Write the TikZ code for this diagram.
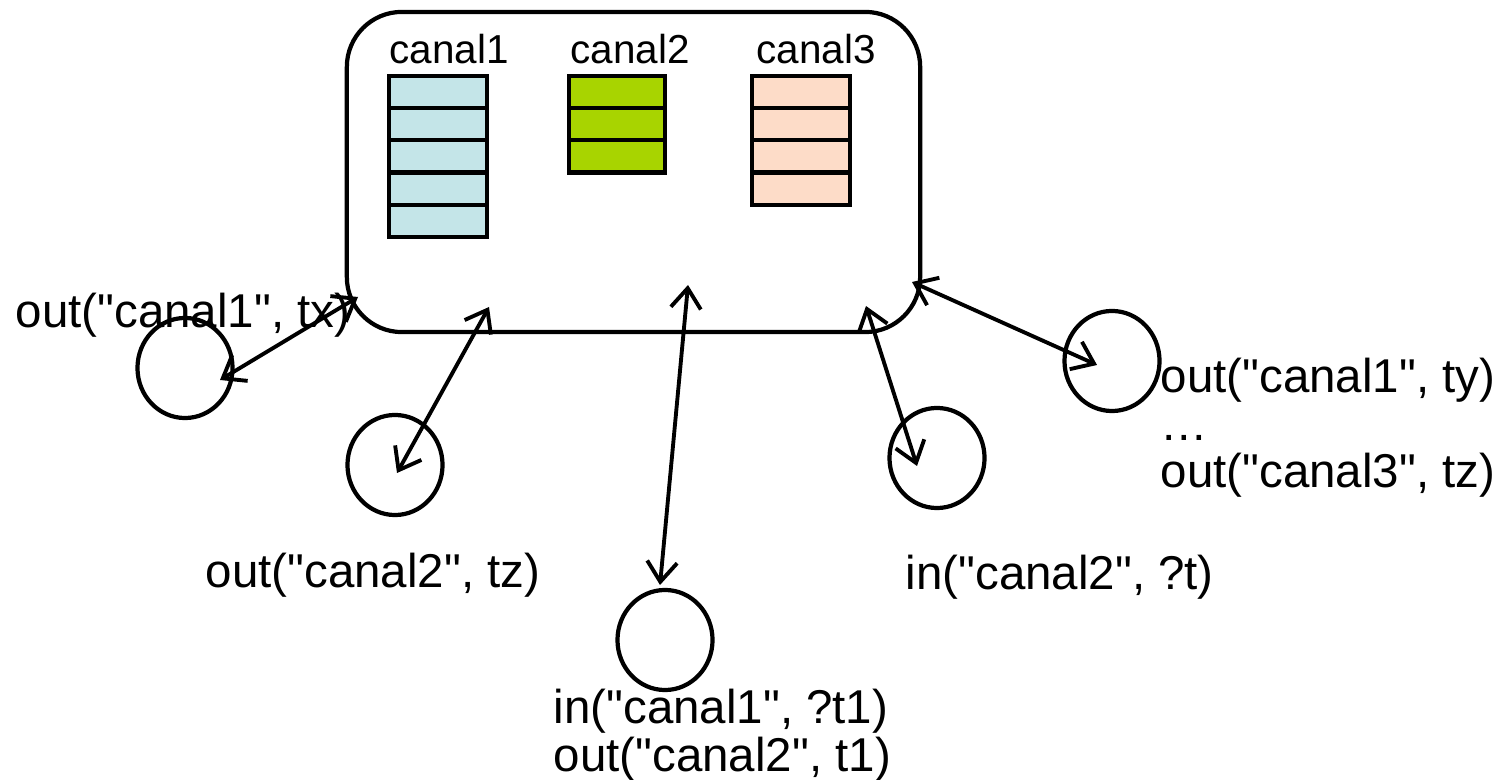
\documentclass[tikz,border=0pt]{standalone}
\usepackage{fontspec}
\setmainfont{Liberation Sans}[Ligatures=TeXOff]
\usetikzlibrary{arrows.meta, positioning, shapes.geometric}

\definecolor{qblue}{RGB}{196,229,232}
\definecolor{qgreen}{RGB}{168,212,0}
\definecolor{qpeach}{RGB}{253,220,200}

\begin{document}
\begin{tikzpicture}[x=0.01cm,y=-0.01cm,
    proc/.style={ellipse,draw,line width=1.2pt,minimum width=0.95cm,minimum height=1cm,inner sep=0pt},
    cell/.style={draw,line width=1.2pt},
    link/.style={{Straight Barb[length=2mm,width=3mm]}-{Straight Barb[length=2mm,width=3mm]},line width=1.1pt},
    lbl/.style={font=\fontsize{13.5}{13.5}\selectfont,inner sep=0pt,align=left,anchor=west},
    qlbl/.style={font=\fontsize{11.5}{13}\selectfont,inner sep=0pt,anchor=west}]
    \useasboundingbox (0,0) rectangle (1510,780);

    % 元组空间
    \node[draw,line width=1.2pt,rounded corners=0.55cm,minimum width=5.73cm,minimum height=3.2cm] (space) at (633.5,172) {};

    % 三个通道的队列
    \foreach \i in {0,...,4} {
        \draw[cell,fill=qblue] (389,76+\i*32.2) rectangle ++(98,32.2);
    }
    \foreach \i in {0,...,2} {
        \draw[cell,fill=qgreen] (569,76+\i*32.2) rectangle ++(96,32.2);
    }
    \foreach \i in {0,...,3} {
        \draw[cell,fill=qpeach] (752,76+\i*32.2) rectangle ++(98,32.2);
    }
    \node[qlbl] (c1) at (389,49) {canal1};
    \node[qlbl] (c2) at (570,49) {canal2};
    \node[qlbl] (c3) at (756,49) {canal3};

    % 进程
    \node[proc] (p1) at (185,368) {};
    \node[proc] (p2) at (395,465) {};
    \node[proc] (p3) at (665,640) {};
    \node[proc] (p4) at (937,458) {};
    \node[proc] (p5) at (1112,361) {};

    % 箭头两端
    \coordinate (b1) at (220,380);
    \coordinate (b2) at (397,473);
    \coordinate (b3) at (660,585);
    \coordinate (b4) at (917,466);
    \coordinate (b5) at (1097,365);
    \coordinate (t1) at (358,297);
    \coordinate (t2) at (489,307);
    \coordinate (t3) at (688,285);
    \coordinate (t4) at (866,306);
    \coordinate (t5) at (912,282);
    \foreach \i in {1,...,5} {
        \draw[link] (b\i) -- (t\i);
    }

    % 操作
    \node[lbl] (o1) at (15,315) {out("canal1", tx)};
    \node[lbl] (o2) at (205,575) {out("canal2", tz)};
    \node[lbl,font=\fontsize{13.5}{12.2}\selectfont] (o3) at (553,735) {in("canal1", ?t1)\\out("canal2", t1)};
    \node[lbl] (o4) at (905,577) {in("canal2", ?t)};
    \node[lbl] (o5) at (1160,428) {out("canal1", ty)\\…\\out("canal3", tz)};
\end{tikzpicture}
\end{document}
